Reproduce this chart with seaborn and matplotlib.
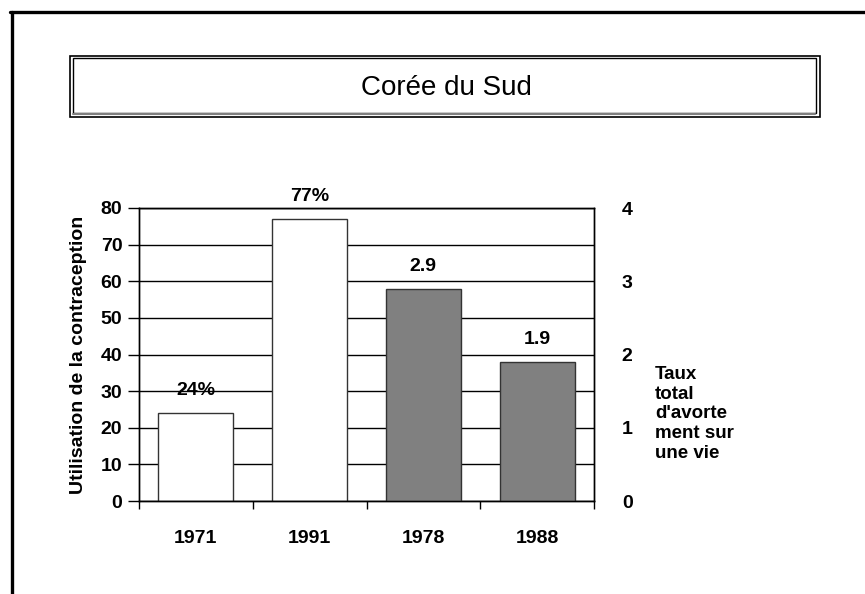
import pandas as pd
import seaborn as sns
import matplotlib.pyplot as plt
from matplotlib.patches import Rectangle
from matplotlib.lines import Line2D

# Data
years = ["1971", "1991", "1978", "1988"]
contraception_years = ["1971", "1991"]
contraception_use = [24, 77]          # % using contraception (left axis)
abortion_years = ["1978", "1988"]
abortion_rate = [2.9, 1.9]            # total abortion rate (right axis)
contraception_labels = ["24%", "77%"]
abortion_labels = ["2.9", "1.9"]

df_left = pd.DataFrame({"year": contraception_years, "value": contraception_use})
df_right = pd.DataFrame({"year": abortion_years, "value": abortion_rate})

sns.set_theme(style="white")
plt.rcParams["font.family"] = ["Liberation Sans", "DejaVu Sans"]
plt.rcParams["font.weight"] = "bold"
plt.rcParams["text.color"] = "black"
plt.rcParams["axes.labelcolor"] = "black"
plt.rcParams["xtick.color"] = "black"
plt.rcParams["ytick.color"] = "black"

fig = plt.figure(figsize=(8.65, 5.94), dpi=100)
ax = fig.add_axes([139 / 865, 93 / 594, 455 / 865, 293 / 594])

# horizontal gridlines behind the bars
ax.set_axisbelow(True)
ax.yaxis.grid(True, color="black", linewidth=1)

sns.barplot(data=df_left, x="year", y="value", order=years, ax=ax,
            color="white", edgecolor="#333333", linewidth=1, width=0.66,
            saturation=1)
ax.set_ylim(0, 80)
ax.set_xlim(-0.5, 3.5)
ax.set_yticks(range(0, 81, 10))
ax.set_xlabel("")
ax.set_ylabel("Utilisation de la contraception", fontsize=14, fontweight="bold",
              labelpad=10)
ax.tick_params(axis="y", which="major", direction="out", length=8, width=1,
               color="black", labelsize=14, pad=4, left=True)
ax.tick_params(axis="x", which="major", length=0, labelsize=14, pad=21)
ax.set_xticks([-0.5, 0.5, 1.5, 2.5, 3.5], minor=True)
ax.tick_params(axis="x", which="minor", direction="out", length=6, width=1,
               color="black", bottom=True)
for lab in ax.get_xticklabels() + ax.get_yticklabels():
    lab.set_fontweight("bold")

# second axis for the abortion rate
ax2 = ax.twinx()
sns.barplot(data=df_right, x="year", y="value", order=years, ax=ax2,
            color="#808080", edgecolor="#333333", linewidth=1, width=0.66,
            saturation=1)
ax2.set_ylim(0, 4)
ax2.set_xlim(-0.5, 3.5)
ax2.set_yticks(range(0, 5))
ax2.set_ylabel("")
ax2.set_xlabel("")
ax2.tick_params(axis="y", length=0, labelsize=14, pad=20, right=True)
for lab in ax2.get_yticklabels():
    lab.set_fontweight("bold")

for a in (ax, ax2):
    for side in ["left", "right", "bottom", "top"]:
        a.spines[side].set_visible(True)
        a.spines[side].set_color("black")
        a.spines[side].set_linewidth(1)

# value labels above bars
for c in ax.containers:
    ax.bar_label(c, labels=contraception_labels, padding=10, fontsize=14,
                 fontweight="bold")
for c in ax2.containers:
    ax2.bar_label(c, labels=abortion_labels, padding=10, fontsize=14,
                  fontweight="bold")

fig.text(655 / 865, 1 - 414 / 594, "Taux\ntotal\nd'avorte\nment sur\nune vie",
         ha="left", va="center", fontsize=13.5, fontweight="bold",
         linespacing=1.2)

# title box (double frame with a grey shadow line at the bottom)
fig.add_artist(Rectangle((70 / 865, 477 / 594), 750 / 865, 61 / 594,
                         transform=fig.transFigure, fill=False,
                         edgecolor="black", linewidth=1.2))
fig.add_artist(Rectangle((72.5 / 865, 481 / 594), 743 / 865, 55 / 594,
                         transform=fig.transFigure, fill=False,
                         edgecolor="black", linewidth=1))
fig.add_artist(Line2D([73 / 865, 815 / 865], [1 - 114 / 594, 1 - 114 / 594],
                      transform=fig.transFigure, color="#808080", linewidth=1.5))
fig.text(446 / 865, 1 - 88 / 594, "Corée du Sud", ha="center", va="center",
         fontsize=20, fontweight="normal")

# thick frame on the left and top
fig.add_artist(Line2D([11.5 / 865, 11.5 / 865], [0, 1 - 11.5 / 594],
                      transform=fig.transFigure, color="black", linewidth=2.4))
fig.add_artist(Line2D([10 / 865, 1], [1 - 11.5 / 594, 1 - 11.5 / 594],
                      transform=fig.transFigure, color="black", linewidth=2.4))

plt.savefig("out.png", dpi=100)
